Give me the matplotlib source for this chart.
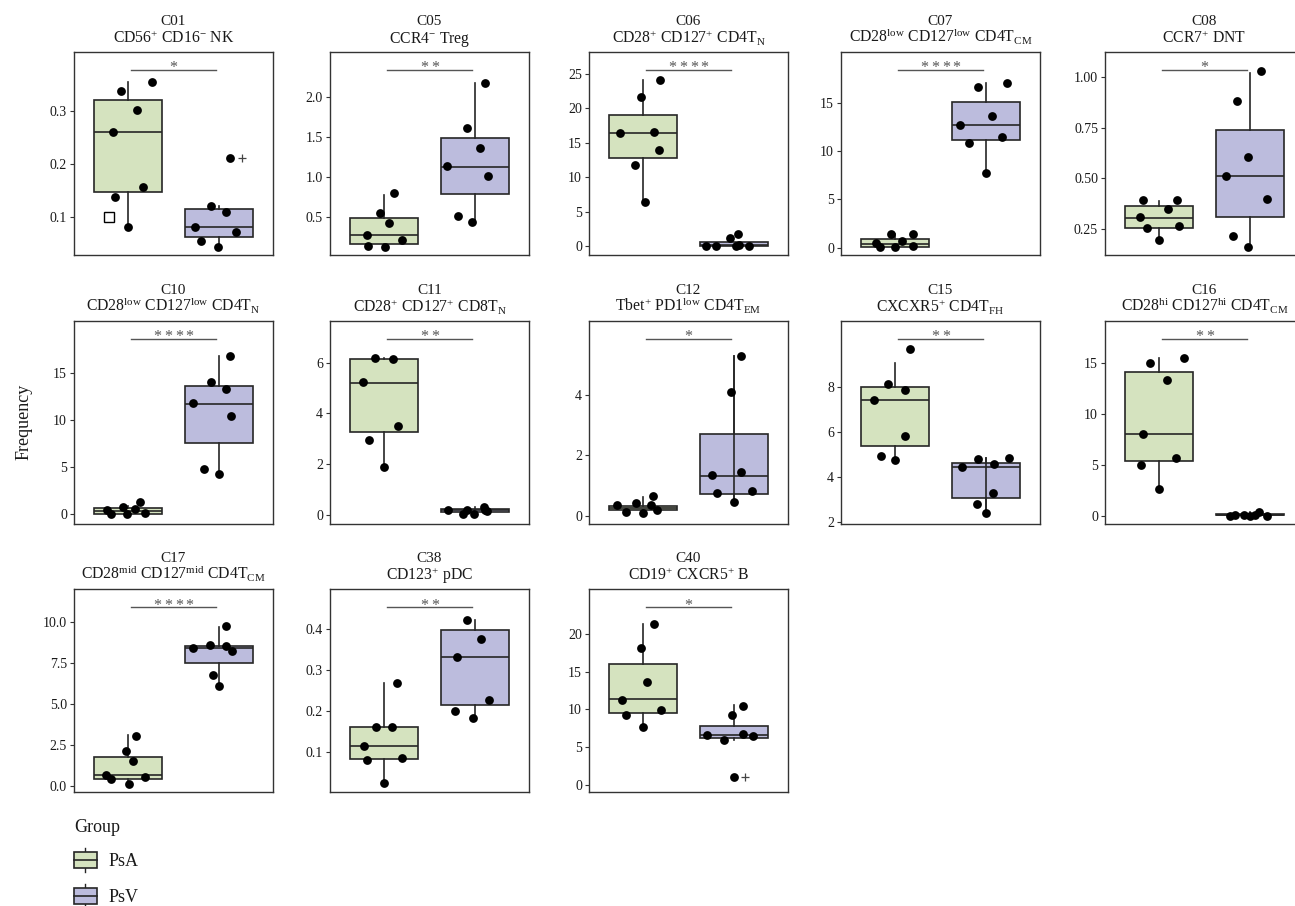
import numpy as np
import matplotlib
matplotlib.use("Agg")
import matplotlib.pyplot as plt
import matplotlib.transforms as mtransforms
from matplotlib.patches import Rectangle

plt.rcParams['font.family'] = ['Liberation Serif', 'DejaVu Serif']
plt.rcParams['mathtext.fontset'] = 'custom'
plt.rcParams['mathtext.rm'] = 'Liberation Serif'
plt.rcParams['mathtext.it'] = 'Liberation Serif:italic'
plt.rcParams['mathtext.default'] = 'regular'

# ---- clusters ----
clusters = ["C01", "C05", "C06", "C07", "C08",
            "C10", "C11", "C12", "C15", "C16",
            "C17", "C38", "C40"]
subsets = [r"CD56$^{+}$ CD16$^{-}$ NK",
           r"CCR4$^{-}$ Treg",
           r"CD28$^{+}$ CD127$^{+}$ CD4T$_{N}$",
           r"CD28$^{low}$ CD127$^{low}$ CD4T$_{CM}$",
           r"CCR7$^{+}$ DNT",
           r"CD28$^{low}$ CD127$^{low}$ CD4T$_{N}$",
           r"CD28$^{+}$ CD127$^{+}$ CD8T$_{N}$",
           r"Tbet$^{+}$ PD1$^{low}$ CD4T$_{EM}$",
           r"CXCXR5$^{+}$ CD4T$_{FH}$",
           r"CD28$^{hi}$ CD127$^{hi}$ CD4T$_{CM}$",
           r"CD28$^{mid}$ CD127$^{mid}$ CD4T$_{CM}$",
           r"CD123$^{+}$ pDC",
           r"CD19$^{+}$ CXCR5$^{+}$ B"]
signif = ["*", "**", "****", "****", "*",
          "****", "**", "*", "**", "**",
          "****", "**", "*"]

groups = ["PsA", "PsV"]

# ---- sample frequencies ----
psa_points = [
    [0.354, 0.337, 0.301, 0.260, 0.157, 0.138, 0.080],
    [0.79, 0.55, 0.42, 0.27, 0.205, 0.13, 0.125],
    [24.13, 21.66, 16.42, 16.57, 13.95, 11.82, 6.35],
    [1.42, 1.45, 0.45, 0.73, 0.04, 0.04, 0.18],
    [0.393, 0.391, 0.348, 0.307, 0.256, 0.266, 0.197],
    [0.46, 0.02, 0.74, 0.03, 0.53, 1.30, 0.10],
    [6.20, 6.15, 5.22, 3.52, 2.97, 1.89],
    [0.34, 0.11, 0.40, 0.09, 0.36, 0.64, 0.19],
    [9.73, 8.15, 7.89, 7.42, 5.84, 4.95, 4.74],
    [15.55, 15.0, 13.39, 8.10, 5.69, 5.03, 2.65],
    [3.03, 2.14, 1.55, 0.67, 0.45, 0.57, 0.12],
    [0.269, 0.161, 0.161, 0.115, 0.086, 0.081, 0.025],
    [21.24, 18.11, 13.67, 11.29, 9.89, 9.27, 7.73],
]
psv_points = [
    [0.211, 0.121, 0.110, 0.080, 0.071, 0.054, 0.043],
    [2.17, 1.605, 1.355, 1.134, 1.01, 0.51, 0.43],
    [0.08, 0.05, 1.12, 1.70, 0.02, 0.12, 0.06],
    [17.12, 16.67, 13.66, 12.73, 10.89, 11.45, 7.78],
    [1.028, 0.88, 0.604, 0.512, 0.396, 0.216, 0.163],
    [16.74, 14.01, 13.24, 11.76, 10.44, 4.8, 4.3],
    [0.19, 0.06, 0.2, 0.04, 0.3, 0.19, 0.15],
    [5.28, 4.09, 1.44, 1.33, 0.74, 0.80, 0.44],
    [4.46, 4.81, 4.56, 4.87, 3.28, 2.82, 2.41],
    [0.04, 0.12, 0.12, 0.04, 0.14, 0.39, 0.04],
    [9.79, 8.41, 8.59, 8.57, 8.27, 6.76, 6.13],
    [0.422, 0.375, 0.332, 0.227, 0.20, 0.182],
    [10.46, 9.27, 6.64, 6.02, 6.72, 6.46, 1.09],
]

# horizontal jitter of the dots around each box centre
psa_jitter = [
    [0.26, -0.08, 0.10, -0.17, 0.16, -0.15, 0.0],
    [0.11, -0.045, 0.05, -0.19, 0.20, -0.18, 0.01],
    [0.185, -0.03, -0.26, 0.12, 0.17, -0.09, 0.02],
    [-0.05, 0.20, -0.21, 0.07, -0.17, 0.0, 0.20],
    [-0.18, 0.20, 0.095, -0.21, -0.14, 0.215, 0.0],
    [-0.24, -0.19, -0.06, -0.015, 0.07, 0.13, 0.19],
    [-0.10, 0.10, -0.23, 0.15, -0.17, 0.0],
    [-0.285, -0.195, -0.085, 0.0, 0.085, 0.11, 0.15],
    [0.165, -0.085, 0.105, -0.235, 0.11, -0.155, 0.0],
    [0.275, -0.105, 0.08, -0.175, 0.18, -0.20, 0.0],
    [0.09, -0.03, 0.05, -0.25, -0.19, 0.19, 0.01],
    [0.14, -0.09, 0.09, -0.22, 0.20, -0.195, 0.0],
    [0.12, -0.03, 0.04, -0.23, 0.20, -0.19, 0.0],
]
psv_jitter = [
    [0.13, -0.09, 0.08, -0.26, 0.19, -0.20, -0.01],
    [0.11, -0.09, 0.06, -0.31, 0.15, -0.19, -0.03],
    [-0.305, -0.20, -0.04, 0.045, 0.03, 0.06, 0.17],
    [0.24, -0.09, 0.065, -0.28, -0.18, 0.185, 0.0],
    [0.12, -0.14, -0.015, -0.26, 0.19, -0.18, -0.015],
    [0.13, -0.09, 0.085, -0.28, 0.14, -0.16, 0.0],
    [-0.29, -0.13, -0.09, -0.01, 0.10, 0.11, 0.14],
    [0.085, -0.03, 0.08, -0.245, -0.19, 0.20, 0.0],
    [-0.26, -0.09, 0.095, 0.26, 0.08, -0.10, 0.0],
    [-0.22, -0.16, -0.06, 0.0, 0.06, 0.10, 0.19],
    [0.08, -0.28, -0.10, 0.08, 0.15, -0.06, 0.0],
    [-0.08, 0.07, -0.20, 0.16, -0.215, -0.02],
    [0.10, -0.02, -0.29, -0.11, 0.10, 0.21, 0.0],
]

# box summaries: lower whisker, Q1, median, Q3, upper whisker
psa_box = [
    [0.080, 0.147, 0.261, 0.321, 0.355],
    [0.13, 0.163, 0.275, 0.48, 0.77],
    [6.35, 12.83, 16.47, 19.08, 24.08],
    [0.04, 0.10, 0.41, 0.93, 1.45],
    [0.199, 0.256, 0.303, 0.365, 0.388],
    [0.0, 0.03, 0.35, 0.64, 0.9],
    [1.88, 3.25, 5.20, 6.16, 6.2],
    [0.09, 0.19, 0.245, 0.33, 0.6],
    [4.76, 5.40, 7.45, 8.01, 9.10],
    [2.65, 5.39, 8.10, 14.12, 15.55],
    [0.12, 0.41, 0.67, 1.79, 3.1],
    [0.025, 0.084, 0.115, 0.162, 0.269],
    [7.73, 9.50, 11.35, 16.0, 21.24],
]
psv_box = [
    [0.043, 0.062, 0.080, 0.115, 0.12],
    [0.43, 0.78, 1.12, 1.48, 2.17],
    [0.0, 0.02, 0.1, 0.6, 0.6],
    [7.78, 11.17, 12.73, 15.15, 17.05],
    [0.163, 0.308, 0.512, 0.739, 1.02],
    [4.3, 7.59, 11.65, 13.59, 16.77],
    [0.03, 0.13, 0.19, 0.24, 0.33],
    [0.44, 0.73, 1.32, 2.72, 5.28],
    [2.41, 3.06, 4.47, 4.63, 4.86],
    [0.04, 0.08, 0.14, 0.25, 0.39],
    [6.13, 7.53, 8.45, 8.57, 9.73],
    [0.182, 0.214, 0.332, 0.398, 0.422],
    [6.02, 6.24, 6.64, 7.86, 10.6],
]

# extra marks
outlier_plus = {"C01": 0.211, "C40": 1.09}
open_square = {"C01": 0.10}
full_whisker = ["C12", "C15"]

y_limits = [(0.028, 0.411), (0.02, 2.56), (-1.3, 28.2), (-0.76, 20.3),
            (0.122, 1.122), (-1.0, 20.5), (-0.34, 7.65), (-0.27, 6.46),
            (1.92, 10.97), (-0.73, 19.18), (-0.39, 12.0), (0.002, 0.496),
            (-0.94, 25.84)]
y_ticks = [[0.1, 0.2, 0.3], [0.5, 1.0, 1.5, 2.0], [0, 5, 10, 15, 20, 25],
           [0, 5, 10, 15], [0.25, 0.5, 0.75, 1.0], [0, 5, 10, 15],
           [0, 2, 4, 6], [0, 2, 4], [2, 4, 6, 8], [0, 5, 10, 15],
           [0, 2.5, 5, 7.5, 10], [0.1, 0.2, 0.3, 0.4], [0, 5, 10, 15, 20]]

# ---- styling ----
fills = ["#d5e3bf", "#bcbcdd"]
edge = "#262626"
W, H = 1295, 906
col_left = [74, 330, 589, 841, 1105]
row_top = [52, 320.7, 589.4]
ax_w, ax_h = 199, 203

fig = plt.figure(figsize=(W / 100, H / 100), dpi=100)

for i, name in enumerate(clusters):
    r, c = divmod(i, 5)
    ax = fig.add_axes([col_left[c] / W, 1 - (row_top[r] + ax_h) / H,
                       ax_w / W, ax_h / H])

    stats = []
    for box in (psa_box[i], psv_box[i]):
        lo, q1, med, q3, hi = box
        stats.append(dict(whislo=lo, q1=q1, med=med, q3=q3, whishi=hi, fliers=[]))
    bp = ax.bxp(stats, positions=[1, 2], widths=0.75, patch_artist=True,
                showcaps=False, showfliers=False,
                boxprops=dict(edgecolor=edge, linewidth=1.2),
                medianprops=dict(color=edge, linewidth=1.2),
                whiskerprops=dict(color=edge, linewidth=1.2))
    for patch, col in zip(bp['boxes'], fills):
        patch.set_facecolor(col)

    if name in full_whisker:
        ax.plot([2, 2], [psv_box[i][0], psv_box[i][4]], color=edge, lw=1.2, zorder=2.5)

    ax.scatter(1 + np.array(psa_jitter[i]), psa_points[i], s=40, color="black",
               linewidths=0, zorder=3)
    ax.scatter(2 + np.array(psv_jitter[i]), psv_points[i], s=40, color="black",
               linewidths=0, zorder=3)

    if name in outlier_plus:
        k = psv_points[i].index(outlier_plus[name])
        ax.plot(2 + max(psv_jitter[i][k], 0) + 0.13, outlier_plus[name],
                marker="+", ms=6, mew=0.9, color="#444444", zorder=3)
    if name in open_square:
        ax.plot(0.79, open_square[name], marker="s", ms=6.5, mfc="white",
                mec="black", mew=1.0, zorder=3)

    # significance bracket, stars spaced a little apart
    trans = mtransforms.blended_transform_factory(ax.transData, ax.transAxes)
    ax.plot([1.03, 1.97], [0.912, 0.912], transform=trans, color="#555555",
            lw=1.0, clip_on=False)
    n = len(signif[i])
    for j in range(n):
        ax.annotate("*", xy=(1.5, 0.9), xycoords=trans,
                    xytext=((j - (n - 1) / 2) * 7.6, 0), textcoords="offset points",
                    ha="center", va="baseline", fontsize=11.5, color="#555555")

    ax.set_xlim(0.4, 2.6)
    ax.set_ylim(*y_limits[i])
    ax.set_yticks(y_ticks[i])
    ax.set_xticks([])
    ax.tick_params(axis="y", length=3, width=0.8, color="#333333",
                   labelsize=10, pad=2, labelcolor="#1a1a1a")
    for sp in ax.spines.values():
        sp.set_color("#333333")
        sp.set_linewidth(1.0)

    # two-line panel heading, baselines fixed above the frame
    ax.annotate(name, xy=(0.5, 1), xycoords="axes fraction", xytext=(0, 19.4),
                textcoords="offset points", ha="center", va="baseline",
                fontsize=11, color="#1a1a1a")
    ax.annotate(subsets[i], xy=(0.5, 1), xycoords="axes fraction", xytext=(0, 6.8),
                textcoords="offset points", ha="center", va="baseline",
                fontsize=11.3, color="#1a1a1a")

    if name == "C10":
        ax.set_ylabel("Frequency", fontsize=13, color="#1a1a1a")
        ax.yaxis.set_label_coords(-0.21, 0.5)

# ---- group legend ----
lax = fig.add_axes([0, 0, 1, 1], zorder=-1)
lax.set_xlim(0, W)
lax.set_ylim(H, 0)
lax.axis("off")
lax.text(74, 828, "Group", fontsize=13, va="center", ha="left", color="#1a1a1a")
for k, (g, col) in enumerate(zip(groups, fills)):
    yc = 860.3 + k * 35.7
    lax.plot([85.3, 85.3], [yc - 12, yc + 12], color=edge, lw=1.0)
    lax.add_patch(Rectangle((74, yc - 8), 22.6, 16, facecolor=col,
                            edgecolor=edge, lw=1.2, zorder=2))
    lax.plot([74, 96.6], [yc, yc], color=edge, lw=1.2, zorder=3)
    lax.text(109, yc + 1, g, fontsize=13, va="center", ha="left", color="#1a1a1a")

fig.savefig("out.png", dpi=100)
